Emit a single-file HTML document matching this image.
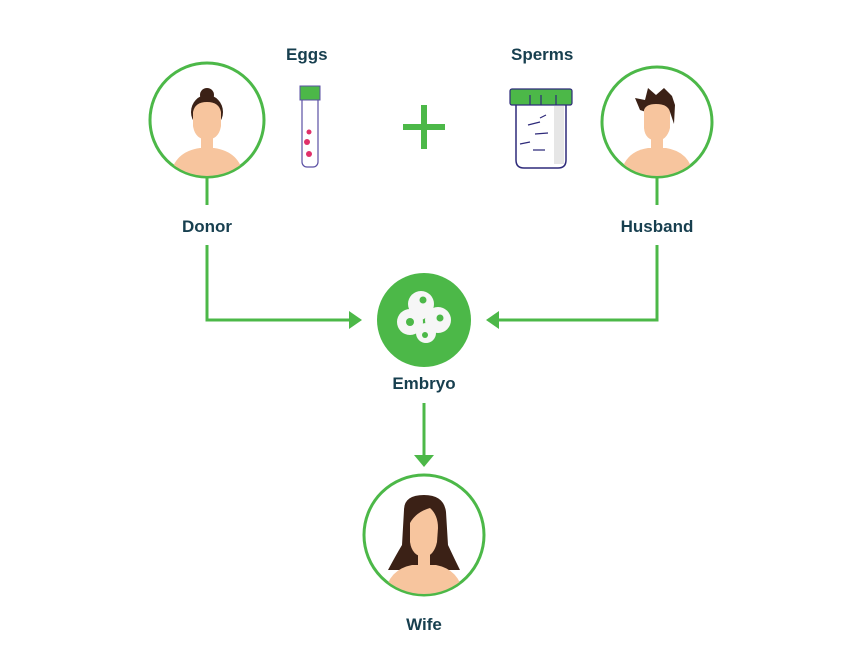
<!DOCTYPE html>
<html><head><style>
html,body{margin:0;padding:0;background:#fff;width:845px;height:653px;overflow:hidden}
text{font-family:"Liberation Sans",sans-serif;font-weight:bold;fill:#173f4f;font-size:17px}
</style></head><body>
<svg width="845" height="653" viewBox="0 0 845 653" xmlns="http://www.w3.org/2000/svg">
<defs>
<clipPath id="c1"><circle cx="207" cy="120" r="56"/></clipPath>
<clipPath id="c2"><circle cx="657" cy="122" r="54"/></clipPath>
<clipPath id="c3"><circle cx="424" cy="535" r="59"/></clipPath>
</defs>
<g fill="none" stroke="#4cb848" stroke-width="3">
<!-- connectors -->
<path d="M207 178 V205"/>
<path d="M207 245 V320 H352"/>
<path d="M657 177 V205"/>
<path d="M657 245 V320 H497"/>
<path d="M424 403 V456"/>
<circle cx="207" cy="120" r="57"/>
<circle cx="657" cy="122" r="55"/>
<circle cx="424" cy="535" r="60"/>
</g>
<g fill="#4cb848">
<path d="M362 320 L349 311 L349 329 Z"/>
<path d="M486 320 L499 311 L499 329 Z"/>
<path d="M424 467 L414 455 L434 455 Z"/>
<rect x="421" y="105" width="6" height="44"/>
<rect x="403" y="124" width="42" height="6"/>
<circle cx="424" cy="320" r="47"/>
</g>
<!-- embryo -->
<g fill="#f6f6f6">
<circle cx="421" cy="304" r="13"/>
<circle cx="410" cy="322" r="13"/>
<circle cx="438" cy="320" r="13"/>
<circle cx="426" cy="333" r="10"/>
<circle cx="420" cy="312" r="8"/>
</g>
<g fill="#4cb848">
<circle cx="423" cy="300" r="3.5"/>
<circle cx="410" cy="322" r="4"/>
<circle cx="440" cy="318" r="3.5"/>
<circle cx="425" cy="335" r="3"/>
</g>
<!-- donor -->
<g clip-path="url(#c1)">
<path d="M170 180 Q172 152 200 148 L214 148 Q242 152 244 180 Z" fill="#f7c59e"/>
<rect x="201" y="132" width="12" height="20" fill="#f7c59e"/>
<circle cx="207" cy="95" r="7" fill="#3b2116"/>
<ellipse cx="207" cy="112" rx="16" ry="17" fill="#3b2116"/>
<path d="M193 112 Q195 102 207 102 Q219 102 221 112 L221 126 Q219 139 207 140 Q195 139 193 126 Z" fill="#f7c59e"/>
</g>
<!-- husband -->
<g clip-path="url(#c2)">
<path d="M620 180 Q622 152 648 148 L666 148 Q692 152 694 180 Z" fill="#f7c59e"/>
<rect x="651" y="132" width="12" height="20" fill="#f7c59e"/>
<path d="M640 110 L635 98 L645 100 L648 88 L656 95 L664 88 L672 96 L675 105 L674 124 L670 112 L646 112 Z" fill="#3b2116"/>
<path d="M644 110 Q646 104 656 104 Q668 104 670 112 L670 128 Q667 140 657 141 Q645 140 644 128 Z" fill="#f7c59e"/>
</g>
<!-- wife -->
<g clip-path="url(#c3)">
<path d="M404 510 Q404 495 424 495 Q444 495 446 512 L448 545 Q455 560 460 570 L388 570 Q396 555 402 545 Z" fill="#3b2116"/>
<path d="M384 600 Q386 570 412 565 L436 565 Q462 570 464 600 Z" fill="#f7c59e"/>
<rect x="418" y="548" width="12" height="20" fill="#f7c59e"/>
<path d="M410 523 Q416 512 430 508 Q438 515 438 528 L437 542 Q434 556 424 557 Q412 556 410 542 Z" fill="#f7c59e"/>
</g>
<!-- test tube -->
<rect x="302" y="92" width="16" height="75" rx="5" fill="#fff" stroke="#5a4fa3" stroke-width="1.2"/>
<rect x="300" y="86" width="20" height="14" fill="#4cb848" stroke="#5a4fa3" stroke-width="1"/>
<circle cx="309" cy="132" r="2.5" fill="#e0306a"/>
<circle cx="307" cy="142" r="3" fill="#e0306a"/>
<circle cx="309" cy="154" r="3" fill="#e0306a"/>
<!-- jar -->
<path d="M516 104 H566 V160 Q566 168 558 168 H524 Q516 168 516 160 Z" fill="#fff" stroke="#2e2a7a" stroke-width="1.5"/>
<rect x="554" y="106" width="10" height="58" fill="#e6e6e6"/>
<rect x="510" y="89" width="62" height="16" rx="2" fill="#4cb848" stroke="#2e2a7a" stroke-width="1.2"/>
<g stroke="#2e2a7a" stroke-width="1.2">
<path d="M530 95 V105 M541 95 V105 M556 95 V105"/>
<path d="M528 125 L540 122 M535 134 L548 133 M520 144 L530 142 M533 150 L545 150 M540 118 L546 115"/>
</g>
<!-- labels -->
<text x="286" y="60">Eggs</text>
<text x="511" y="60">Sperms</text>
<text x="207" y="232" text-anchor="middle">Donor</text>
<text x="657" y="232" text-anchor="middle">Husband</text>
<text x="424" y="389" text-anchor="middle">Embryo</text>
<text x="424" y="630" text-anchor="middle">Wife</text>
</svg>
</body></html>
